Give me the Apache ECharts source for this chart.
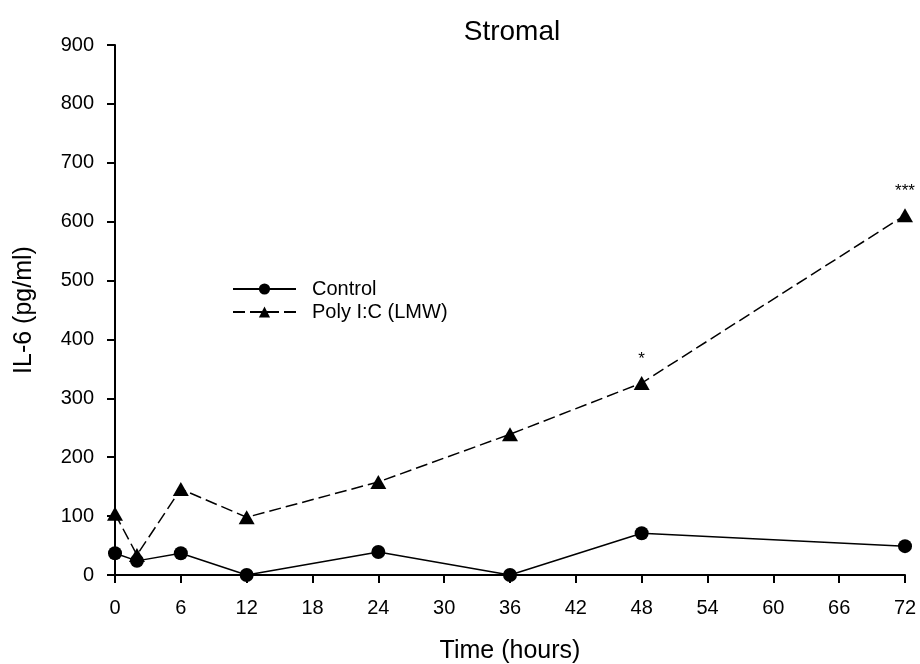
<!DOCTYPE html>
<html><head><meta charset="utf-8">
<script src="https://cdn.jsdelivr.net/npm/echarts@6/dist/echarts.min.js"></script>
<style>html,body{margin:0;padding:0;background:#fff}#c{width:920px;height:664px}</style>
</head><body><div id="c"></div>
<script>
const hours = [0, 2, 6, 12, 24, 36, 48, 72];
const control = [37, 24, 37, 0, 39, 0, 71, 49];
const polyIC = [104, 34, 146, 98, 158, 239, 326, 611];
const polyStars = ['', '', '', '', '', '', '*', '***'];

const chart = echarts.init(document.getElementById('c'));
const font = 'Liberation Sans, Arial, sans-serif';
chart.setOption({
  animation: false,
  backgroundColor: '#fff',
  title: { text: 'Stromal', left: 507, textAlign: 'center', top: 13,
    textStyle: { fontFamily: font, fontSize: 28, fontWeight: 'normal', color: '#000' } },
  legend: {
    orient: 'vertical', left: 227, top: 274, itemWidth: 63, itemHeight: 14, itemGap: 3,
    textStyle: { fontFamily: font, fontSize: 20, color: '#000', padding: [0, 0, 0, 11] },
    data: ['Control', 'Poly I:C (LMW)']
  },
  grid: { left: 115, right: 15, top: 45, bottom: 89, outerBoundsMode: 'none', containLabel: false },
  xAxis: {
    type: 'value', min: 0, max: 72, interval: 6,
    name: 'Time (hours)', nameLocation: 'middle', nameGap: 64,
    nameTextStyle: { fontFamily: font, fontSize: 25, color: '#000' },
    axisLine: { lineStyle: { color: '#000', width: 2 } },
    axisTick: { lineStyle: { color: '#000', width: 2 }, length: 8 },
    axisLabel: { fontFamily: font, fontSize: 20, color: '#000', margin: 23 },
    splitLine: { show: false }
  },
  yAxis: {
    type: 'value', min: 0, max: 900, interval: 100,
    name: 'IL-6 (pg/ml)', nameLocation: 'middle', nameGap: 78,
    nameTextStyle: { fontFamily: font, fontSize: 25, color: '#000' },
    axisLine: { show: true, lineStyle: { color: '#000', width: 2 } },
    axisTick: { show: true, lineStyle: { color: '#000', width: 2 }, length: 8 },
    axisLabel: { fontFamily: font, fontSize: 20, color: '#000', margin: 21 },
    splitLine: { show: false }
  },
  series: [
    {
      name: 'Control', type: 'line',
      data: hours.map((h, i) => [h, control[i]]),
      symbol: 'circle', symbolSize: 14,
      itemStyle: { color: '#000' },
      lineStyle: { color: '#000', width: 1.5 }, z: 3
    },
    {
      name: 'Poly I:C (LMW)', type: 'line',
      data: hours.map((h, i) => ({
        value: [h, polyIC[i]],
        label: { show: polyStars[i] !== '', formatter: polyStars[i], position: 'top', distance: 8,
          fontFamily: font, fontSize: 17, color: '#000' }
      })),
      symbol: 'triangle', symbolSize: [16, 14],
      itemStyle: { color: '#000' },
      lineStyle: { color: '#000', width: 1.5, type: [12, 5] }, z: 2
    }
  ]
});
</script></body></html>
